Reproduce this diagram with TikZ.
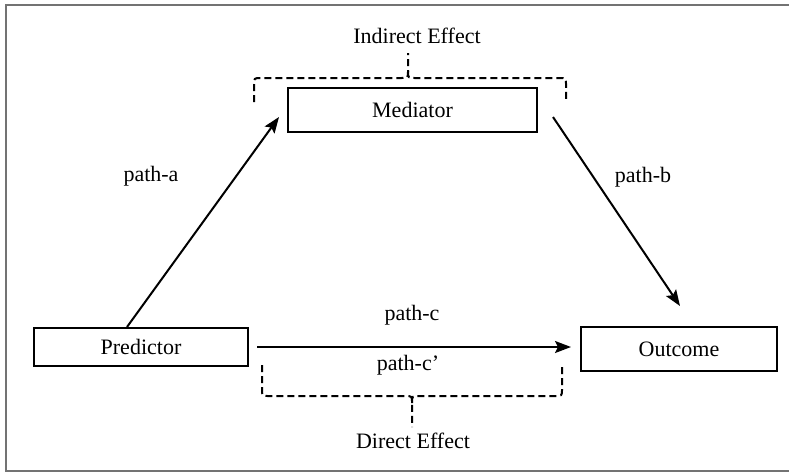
\documentclass[tikz,border=0pt]{standalone}
\usepackage{fontspec}
\setmainfont{Liberation Serif}
\usetikzlibrary{arrows.meta}
\begin{document}
\begin{tikzpicture}[x=1pt,y=-1pt,
  box/.style={draw=black, line width=2pt, rectangle, inner sep=0pt,
    text height=15pt, text depth=0pt, font=\fontsize{22}{26}\selectfont},
  lbl/.style={anchor=base, inner sep=0pt, font=\fontsize{22}{26}\selectfont},
  arr/.style={line width=2pt, -{Stealth[length=16pt,width=12pt,inset=3pt]}},
  brace/.style={line width=2pt, dash pattern=on 7pt off 4pt}]
\useasboundingbox (0,0) rectangle (789,472);
\fill[white] (0,0) rectangle (789,472);
\draw[gray!110, line width=2pt] (795,4.5) -- (5.5,4.5) -- (5.5,470.5) -- (795,470.5);

\node[box, minimum width=249pt, minimum height=44pt] (med) at (412.5,110) {Mediator};
\node[box, minimum width=214pt, minimum height=38pt] (pred) at (141,347) {Predictor};
\node[box, minimum width=196pt, minimum height=44pt] (out) at (679,349) {Outcome};

\draw[arr] ([xshift=94pt]pred.north west) -- ([xshift=-8pt,yshift=-7pt]med.west);
\draw[arr] ([xshift=15pt,yshift=-7pt]med.east) -- ([xshift=1pt,yshift=20pt]out.north);
\draw[arr] ([xshift=8pt]pred.east) -- ([xshift=-9pt]out.west |- pred.east);

\node[lbl] (la) at (151,181) {path-a};
\node[lbl] (lb) at (643,182) {path-b};
\node[lbl] (lc) at (412,320) {path-c};
\node[lbl] (lcp) at (408,370) {path-c'};
\node[lbl] (ind) at (417,43) {Indirect Effect};
\node[lbl] (dir) at (413,448) {Direct Effect};

\draw[brace] (254,102) -- (254,85) .. controls (254,78) .. (261,78) -- (401,78)
  .. controls (408,78) .. (408,71) -- (408,53);
\draw[brace] (408,71) .. controls (408,78) .. (415,78) -- (559,78)
  .. controls (566,78) .. (566,85) -- (566,102);
\draw[brace] (262,365) -- (262,389) .. controls (262,396) .. (269,396) -- (405,396)
  .. controls (412,396) .. (412,403) -- (412,427);
\draw[brace] (412,403) .. controls (412,396) .. (419,396) -- (555,396)
  .. controls (562,396) .. (562,389) -- (562,365);
\end{tikzpicture}
\end{document}
